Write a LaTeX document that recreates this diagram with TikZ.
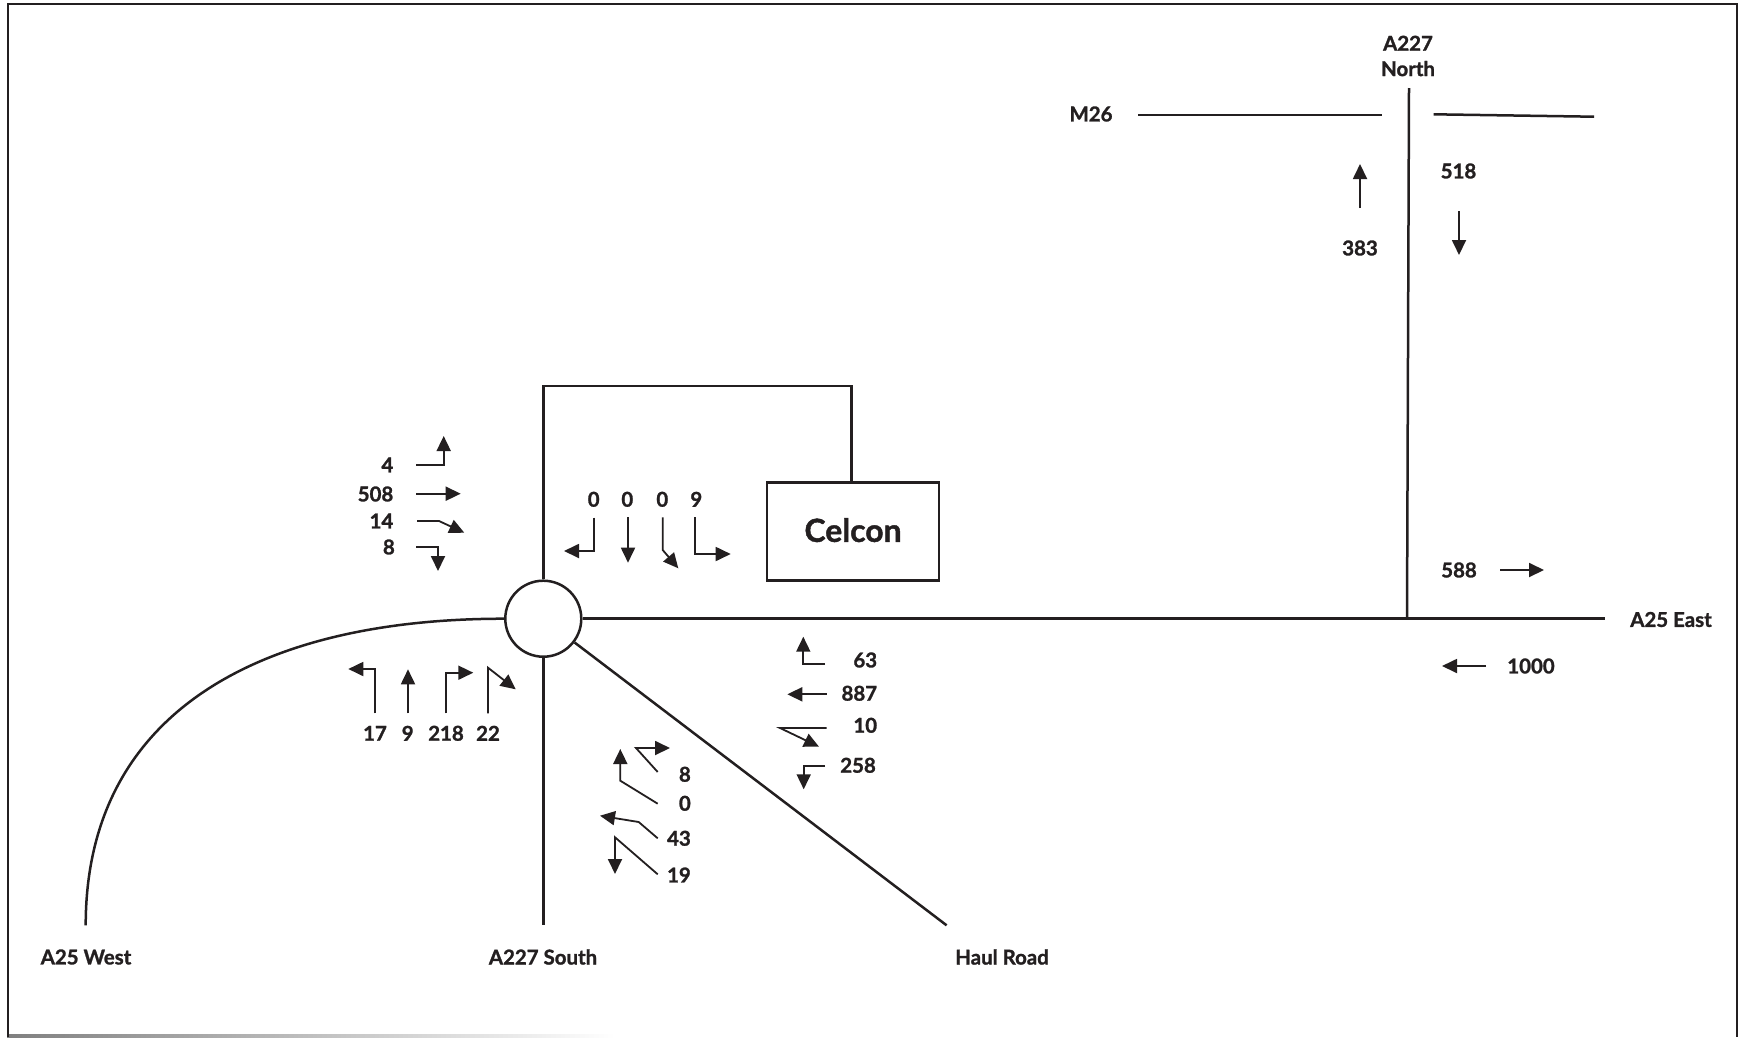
\documentclass[tikz,border=0pt]{standalone}
\usepackage{fontspec}
\setmainfont{Lato}[BoldFeatures={FakeBold=1.3}]
\usetikzlibrary{arrows.meta}
\definecolor{inkdark}{HTML}{231F20}
\tikzset{
  road/.style={inkdark,line width=2.5bp},
  flow/.style={inkdark,line width=1.8bp,-{Triangle[length=15bp,width=14bp]}},
  count/.style={inkdark,font=\fontsize{20.5}{24}\selectfont\bfseries,inner sep=0pt,align=center},
}
\begin{document}
\begin{tikzpicture}[x=1bp,y=-1bp]
  \path[use as bounding box] (0,0) rectangle (1738,1037);
  \fill[white] (0,0) rectangle (1738,1037);
  \shade[left color=black!50,right color=white] (7,1034.5) rectangle (615,1037);
  \draw[inkdark,line width=2.6bp] (8,1037) -- (8,4) -- (1737.2,4) -- (1737.2,1037);

  \node[road,draw,fill=white,circle,minimum size=76bp,inner sep=0pt] (roundabout) at (543.3,618.7) {};
  \node[road,draw,minimum width=172bp,minimum height=98bp,inner sep=0pt] (celcon) at (853,531.5) {\raisebox{3bp}{\fontsize{32}{38}\selectfont\bfseries Celcon}};

  \coordinate (eastend) at (1605,618.7);
  \coordinate (southend) at (543.3,925.3);
  \coordinate (westend) at (85.7,925.3);
  \coordinate (haulend) at (946.6,925.3);
  \coordinate (northend) at (1409,88);
  \coordinate (northfoot) at (1407,618.7);
  \coordinate (accesscorner) at (543.3,386);

  \draw[road] (roundabout.east) -- (eastend);
  \draw[road] (roundabout.south) -- (southend);
  \draw[road] (roundabout) -- (haulend);
  \draw[road] (roundabout.west) .. controls (260,618.7) and (85.7,712) .. (westend);
  \draw[road] (roundabout.north) -- (accesscorner) -| ([xshift=-1.7bp]celcon.north);
  \draw[road] (northend) -- (northfoot);
  \draw[road] (1138,115) -- (1382,115);
  \draw[road] (1433.6,114.3) -- (1594,116.7);

  \node[count] (labwest) at (86,957) {A25 West};
  \node[count] (labsouth) at (543,957) {A227 South};
  \node[count] (labhaul) at (1002,957) {Haul Road};
  \node[count] (labeast) at (1671,619.5) {A25 East};
  \node[count,font=\fontsize{20.5}{25.5}\selectfont\bfseries] (labnorth) at (1408,56) {A227\\North};
  \node[count] (labm) at (1091,114) {M26};

  \node[count,anchor=east] (w1) at (393.5,465) {4};
  \node[count,anchor=east] (w2) at (393.5,494) {508};
  \node[count,anchor=east] (w3) at (393.5,521) {14};
  \node[count,anchor=east] (w4) at (395,547) {8};
  \draw[flow] (416.3,465.3) -- (443.7,465.3) -- (443.7,436);
  \draw[flow] (416.3,493.7) -- (460.7,493.7);
  \draw[flow] (417,521) -- (439,521) -- (464.3,532.7);
  \draw[flow] (416.3,547) -- (438,547) -- (438,571);

  \node[count] (n1) at (593.7,499.3) {0};
  \node[count] (n2) at (627.3,499.3) {0};
  \node[count] (n3) at (662.3,499.3) {0};
  \node[count] (n4) at (696.3,499.3) {9};
  \draw[flow] (594.3,517.7) -- (594.3,551) -- (564,551);
  \draw[flow] (628,517.3) -- (628,562.7);
  \draw[flow] (662.7,517.3) -- (662.7,550) -- (678.3,568.3);
  \draw[flow] (695.3,517.3) -- (695.3,554) -- (730.7,554);

  \node[count] (s1) at (375,733.3) {17};
  \node[count] (s2) at (407.7,733.3) {9};
  \node[count] (s3) at (446,733.3) {218};
  \node[count] (s4) at (488,733.3) {22};
  \draw[flow] (375,713.3) -- (375,669) -- (348.3,669);
  \draw[flow] (408,713.3) -- (408,669.3);
  \draw[flow] (446,713.3) -- (446,672.7) -- (473.3,672.7);
  \draw[flow] (488,713.3) -- (488,667.7) -- (515.7,689.3);

  \node[count,anchor=east] (h1) at (691,774.3) {8};
  \node[count,anchor=east] (h2) at (691,803.3) {0};
  \node[count,anchor=east] (h3) at (691,838.3) {43};
  \node[count,anchor=east] (h4) at (691,875) {19};
  \draw[flow] (657.7,772) -- (636,748) -- (670,748);
  \draw[flow] (657.7,803.7) -- (620.3,780.7) -- (620.3,749);
  \draw[flow] (657.7,838.3) -- (638.7,822) -- (600,815.7);
  \draw[flow] (657.7,874.3) -- (615,837.3) -- (615,874);

  \node[count,anchor=east] (e1) at (877.3,660) {63};
  \node[count,anchor=east] (e2) at (877.3,693.3) {887};
  \node[count,anchor=east] (e3) at (877.3,725.3) {10};
  \node[count,anchor=east] (e4) at (876,765.3) {258};
  \draw[flow] (825,663.7) -- (803.3,663.7) -- (803.3,636.7);
  \draw[flow] (826.7,694.3) -- (787.3,694.3);
  \draw[flow] (826.7,728) -- (780,728) -- (819,746.7);
  \draw[flow] (825,766.3) -- (803.7,766.3) -- (803.7,789.3);

  \node[count] (m1) at (1458.5,171) {518};
  \node[count] (m2) at (1360,248) {383};
  \node[count] (m3) at (1459,570) {588};
  \node[count] (m4) at (1531,666) {1000};
  \draw[flow] (1360,208) -- (1360,164);
  \draw[flow] (1459,211) -- (1459,255);
  \draw[flow] (1500,570) -- (1544,570);
  \draw[flow] (1486,666) -- (1442,666);
\end{tikzpicture}
\end{document}
